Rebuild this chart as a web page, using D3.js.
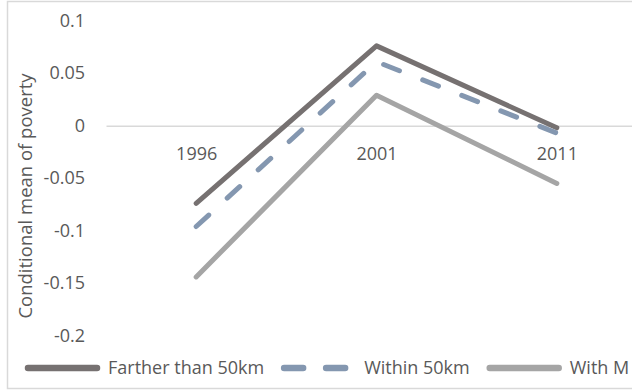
<!DOCTYPE html>
<html>
<head>
<meta charset="utf-8">
<script src="https://cdn.jsdelivr.net/npm/d3@7"></script>
<style>
  body { margin: 0; background: #fff; }
  svg text { font-family: "Open Sans", sans-serif; fill: #595959; }
</style>
</head>
<body>
<svg id="plot"></svg>
<script>
var years = ["1996", "2001", "2011"];
var seriesNames = ["Farther than 50km", "Within 50km", "With M"];
var farther = [-0.074, 0.076, -0.002];
var within50 = [-0.096, 0.061, -0.007];
var withM = [-0.144, 0.029, -0.055];
var yTicks = [0.1, 0.05, 0, -0.05, -0.1, -0.15, -0.2];
var yTickLabels = ["0.1", "0.05", "0", "-0.05", "-0.1", "-0.15", "-0.2"];

var width = 632, height = 390;

var series = [
  {name: seriesNames[0], values: farther, color: "#767171", dash: null},
  {name: seriesNames[1], values: within50, color: "#8497B0", dash: "17,25"},
  {name: seriesNames[2], values: withM, color: "#A5A5A5", dash: null}
];

var svg = d3.select("#plot")
    .attr("width", width)
    .attr("height", height);

// chart area border (right edge falls outside the picture)
svg.append("rect")
    .attr("x", 7.5).attr("y", 1.5)
    .attr("width", 700).attr("height", 387)
    .attr("fill", "none")
    .attr("stroke", "#D9D9D9")
    .attr("stroke-width", 1.5);

var xScale = d3.scalePoint()
    .domain(years)
    .range([106, 647])
    .padding(0.5);

var yScale = d3.scaleLinear()
    .domain([-0.2, 0.1])
    .range([335.7, 20.7]);

// y axis labels
var yAxis = d3.axisLeft(yScale)
    .tickValues(yTicks)
    .tickFormat((d, i) => yTickLabels[i])
    .tickSize(0)
    .tickPadding(21);

svg.append("g")
    .attr("transform", "translate(106,0)")
    .call(yAxis)
    .call(g => g.select(".domain").remove())
    .call(g => g.selectAll("text")
      .attr("font-size", 18)
      .attr("font-family", "Open Sans")
      .attr("fill", "#595959"));

// x axis sits on zero, its domain is the zero line
var xAxis = d3.axisBottom(xScale)
    .tickSize(0)
    .tickPadding(22);

svg.append("g")
    .attr("transform", "translate(0," + yScale(0) + ")")
    .call(xAxis)
    .call(g => g.select(".domain")
      .attr("stroke", "#D9D9D9")
      .attr("stroke-width", 1.5))
    .call(g => g.selectAll("text")
      .attr("font-size", 18)
      .attr("font-family", "Open Sans")
      .attr("fill", "#595959"));

svg.append("text")
    .attr("transform", "translate(26,196) rotate(-90)")
    .attr("text-anchor", "middle")
    .attr("dy", "0.35em")
    .attr("font-size", 18.5)
    .text("Conditional mean of poverty");

var line = d3.line()
    .x((d, i) => xScale(years[i]))
    .y(d => yScale(d));

svg.append("g")
    .attr("fill", "none")
    .attr("stroke-width", 5)
    .attr("stroke-linejoin", "round")
    .attr("stroke-linecap", "round")
  .selectAll("path")
  .data(series)
  .join("path")
    .attr("stroke", d => d.color)
    .attr("stroke-dasharray", d => d.dash)
    .attr("d", d => line(d.values));

// legend
var legend = svg.append("g").attr("transform", "translate(0,368)");
var cursor = 28;
series.forEach(function(s) {
  var item = legend.append("g").attr("transform", "translate(" + cursor + ",0)");
  item.append("line")
    .attr("x1", 0).attr("x2", s.dash ? 66 : 69)
    .attr("stroke", s.color)
    .attr("stroke-width", 6.5)
    .attr("stroke-linecap", "round")
    .attr("stroke-dasharray", s.dash ? "19,23" : null);
  var t = item.append("text")
    .attr("x", 80)
    .attr("dy", "0.35em")
    .attr("font-size", 18)
    .text(s.name);
  cursor += 80 + t.node().getComputedTextLength() + 20;
});
</script>
</body>
</html>
